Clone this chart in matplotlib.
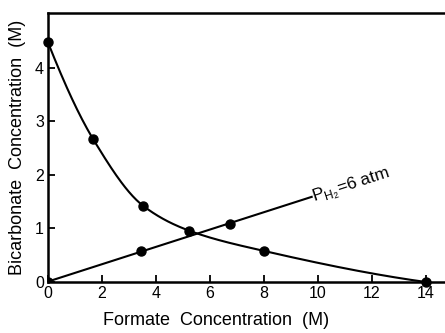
import numpy as np
import matplotlib
matplotlib.use("Agg")
import matplotlib.pyplot as plt

# values
formate_bicarb = [0.0, 1.68, 3.53, 5.22, 8.0, 14.0]
bicarbonate = [4.47, 2.66, 1.42, 0.96, 0.58, 0.0]

formate_h2 = [0.0, 3.43, 6.74]
bicarbonate_h2 = [0.0, 0.58, 1.09]
h2_line_end = 9.77

x_ticks = [0, 2, 4, 6, 8, 10, 12, 14]
y_ticks = [0, 1, 2, 3, 4]


def pchip(x, y, xs):
    # monotone cubic through the points, to draw the smooth curve
    x = np.asarray(x, float)
    y = np.asarray(y, float)
    h = np.diff(x)
    d = np.diff(y) / h
    m = np.zeros_like(y)
    for k in range(1, len(x) - 1):
        if d[k - 1] * d[k] > 0:
            w1 = 2 * h[k] + h[k - 1]
            w2 = h[k] + 2 * h[k - 1]
            m[k] = (w1 + w2) / (w1 / d[k - 1] + w2 / d[k])
    m[0] = ((2 * h[0] + h[1]) * d[0] - h[0] * d[1]) / (h[0] + h[1])
    m[-1] = ((2 * h[-1] + h[-2]) * d[-1] - h[-1] * d[-2]) / (h[-1] + h[-2])
    idx = np.clip(np.searchsorted(x, xs) - 1, 0, len(x) - 2)
    t = (xs - x[idx]) / h[idx]
    h00 = 2 * t**3 - 3 * t**2 + 1
    h10 = t**3 - 2 * t**2 + t
    h01 = -2 * t**3 + 3 * t**2
    h11 = t**3 - t**2
    return h00 * y[idx] + h10 * h[idx] * m[idx] + h01 * y[idx + 1] + h11 * h[idx] * m[idx + 1]


plt.rcParams['font.family'] = ['Liberation Sans', 'DejaVu Sans']

fig = plt.figure(figsize=(4.45, 3.33), dpi=100)
ax = fig.add_axes([48 / 445, 51 / 333, 1 - 48 / 445, 269 / 333])

xs = np.linspace(0, 14, 300)
ax.plot(xs, pchip(formate_bicarb, bicarbonate, xs), color='black', lw=1.5)
ax.plot(formate_bicarb, bicarbonate, 'o', color='black', ms=6.5, clip_on=False)

slope = np.polyfit(formate_h2, bicarbonate_h2, 1)
xl = np.array([0, h2_line_end])
ax.plot(xl, np.polyval(slope, xl), color='black', lw=1.5)
ax.plot(formate_h2, bicarbonate_h2, 'o', color='black', ms=6.5)

ax.text(h2_line_end + 0.05, np.polyval(slope, h2_line_end) - 0.03,
        r'P$_{\mathregular{H_2}}$=6 atm', rotation=18, rotation_mode='anchor',
        ha='left', va='center', fontsize=12.5)

ax.set_xlim(0, 14.71)
ax.set_ylim(0, 5.02)
ax.set_xticks(x_ticks)
ax.set_yticks(y_ticks)
ax.tick_params(direction='in', length=5, width=1.3, labelsize=11.5, pad=3)
ax.spines['right'].set_visible(False)
for s in ['left', 'top', 'bottom']:
    ax.spines[s].set_linewidth(1.8)

ax.set_xlabel('Formate  Concentration  (M)', fontsize=13)
ax.xaxis.set_label_coords((216 - 48) / 397, -0.11)
ax.set_ylabel('Bicarbonate  Concentration  (M)', fontsize=13, labelpad=6)

fig.savefig('out.png', dpi=100)
